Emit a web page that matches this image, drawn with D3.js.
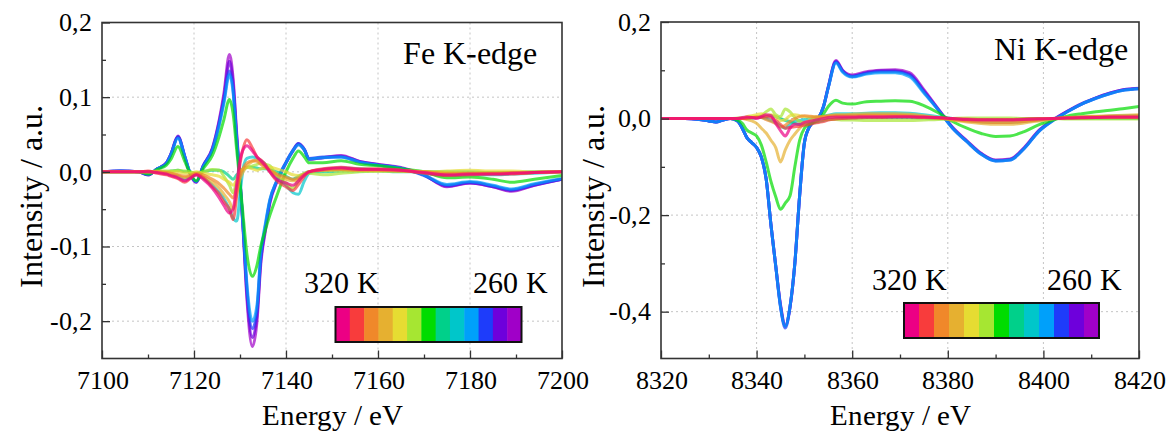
<!DOCTYPE html>
<html><head><meta charset="utf-8">
<script src="https://cdn.jsdelivr.net/npm/d3@7"></script>
<style>
@font-face{font-family:"ChartSerif";src:local("Liberation Serif"),local("LiberationSerif"),local("LiberationSerif-Regular"),local("Liberation Serif Regular"),local("Times New Roman"),local("TimesNewRomanPSMT"),local("Tinos"),local("Tinos-Regular"),local("Nimbus Roman"),local("NimbusRoman-Regular"),local("DejaVu Serif"),local("DejaVuSerif"),local("Noto Serif"),local("NotoSerif-Regular");}
body{margin:0;background:#fff}
</style>
</head><body>
<svg id="c" width="1171" height="434"></svg>
<script>
// ---------- data ----------
const temperatures = [320,315,310,305,300,295,290,285,280,275,270,265,260];
const tempColors = ["#EC0084","#F83C3C","#F0882A","#E6B030","#E6DC32","#A6E632","#00DC00","#00D08A","#00C6CA","#00A0FA","#1E3CFA","#6E00DC","#A000C8"];

const feEnergy = [7100,7104,7108,7110,7112,7114,7115,7116.5,7118,7119,7120.5,7122,7124,7125.5,7126.5,7127.7,7128.5,7129.3,7130,7130.7,7131.5,7132.7,7133.7,7134.5,7135.5,7136.5,7138,7140,7141.5,7142.7,7144,7145,7148,7152,7156,7160,7165,7170,7175,7180,7185,7189,7194,7200];
const fe320 = [0,0,0,0,-0.001,-0.003,-0.005,-0.008,-0.012,-0.009,-0.004,-0.01,-0.022,-0.035,-0.045,-0.055,-0.05,-0.015,0.015,0.03,0.035,0.028,0.02,0.015,0.008,0,-0.01,-0.015,-0.018,-0.012,-0.004,0,0.003,0.005,0.003,0.003,0.002,-0.001,-0.004,-0.003,-0.003,-0.002,-0.001,0];
const fe315 = [0,0,0,0.001,-0.002,-0.004,-0.006,-0.009,-0.014,-0.01,-0.004,-0.008,-0.02,-0.03,-0.04,-0.05,-0.064,-0.03,0.01,0.032,0.043,0.032,0.02,0.016,0.01,0,-0.012,-0.02,-0.025,-0.017,-0.006,0,0.004,0.006,0.004,0.004,0.002,-0.002,-0.005,-0.004,-0.003,-0.003,-0.001,0];
const fe310 = [0,0,0,0,0,-0.001,-0.002,-0.004,-0.006,-0.005,-0.002,-0.004,-0.01,-0.016,-0.022,-0.03,-0.035,-0.02,-0.005,0.005,0.012,0.015,0.014,0.01,0.006,0.002,-0.003,-0.007,-0.01,-0.008,-0.003,0,0.002,0.003,0.002,0.002,0.001,0,-0.002,-0.002,-0.002,-0.001,-0.001,0];
const fe305 = [0,0,0,0,0,-0.002,-0.003,-0.005,-0.008,-0.006,-0.003,-0.006,-0.014,-0.022,-0.03,-0.04,-0.05,-0.03,-0.01,0,0.008,0.014,0.016,0.012,0.008,0.002,-0.005,-0.01,-0.012,-0.01,-0.004,0,0.003,0.004,0.003,0.003,0.002,0,-0.003,-0.002,-0.002,-0.002,-0.001,0];
const fe300 = [0,0,0,0,0,0,0,0,-0.002,-0.002,0,-0.002,-0.004,-0.006,-0.01,-0.014,-0.018,-0.01,0,0.004,0.006,0.004,0.002,0.004,0.005,0.006,0.004,0,-0.004,-0.005,-0.002,0,0.002,0.002,0.002,0.001,0.001,0,0.001,0.002,0.001,0.001,0,0];
const fe295 = [0,0,0,0,0.001,0.001,0.001,0.002,0.001,0,-0.002,0,0.003,0.002,-0.006,-0.018,-0.028,-0.012,0,0.003,0.006,0.008,0.01,0.012,0.01,0.008,-0.005,-0.015,-0.022,-0.012,-0.004,-0.002,-0.004,-0.002,0,0.001,0.001,0,-0.001,-0.002,-0.002,-0.002,-0.001,0];
const fe290 = [0,0,0,-0.003,0.003,0.009,0.017,0.034,0.014,0,-0.012,0.004,0.022,0.048,0.07,0.097,0.078,0.028,-0.015,-0.06,-0.11,-0.14,-0.125,-0.1,-0.078,-0.058,-0.032,0,0.018,0.028,0.02,0.012,0.012,0.015,0.01,0.008,0.004,0,-0.008,-0.007,-0.01,-0.014,-0.01,-0.005];
const fe285 = [0,0,0,0,0,0,0.001,0.002,0,0,-0.002,0,0.002,0.002,0,-0.006,-0.01,-0.004,0,0.004,0.006,0.006,0.005,0.004,0.004,0.003,0,-0.006,-0.01,-0.006,-0.002,0,0,0.001,0.001,0.001,0,0,0,0,-0.001,-0.001,0,0];
const fe280 = [0,0,0,0,0,-0.002,-0.004,-0.006,-0.01,-0.008,-0.004,-0.008,-0.018,-0.028,-0.036,-0.05,-0.062,-0.066,-0.03,0.005,0.018,0.02,0.018,0.015,0.01,0.002,-0.008,-0.018,-0.028,-0.03,-0.012,-0.002,0.003,0.005,0.004,0.003,0.002,-0.002,-0.005,-0.004,-0.004,-0.003,-0.002,0];
const fe275 = [0,0.001,0,-0.003,0.004,0.011,0.023,0.045,0.02,0.001,-0.013,0.007,0.029,0.063,0.092,0.13,0.106,0.04,-0.012,-0.075,-0.15,-0.2,-0.178,-0.11,-0.07,-0.037,-0.012,0.012,0.028,0.036,0.029,0.017,0.019,0.02,0.013,0.009,0.005,-0.004,-0.017,-0.013,-0.018,-0.023,-0.016,-0.009];
const fe270 = [0,0.001,0,-0.004,0.004,0.012,0.024,0.047,0.021,0.001,-0.013,0.008,0.03,0.065,0.095,0.135,0.11,0.042,-0.01,-0.075,-0.155,-0.21,-0.185,-0.115,-0.073,-0.038,-0.012,0.013,0.029,0.038,0.03,0.018,0.02,0.02,0.013,0.009,0.005,-0.005,-0.018,-0.014,-0.019,-0.024,-0.017,-0.01];
const fe265 = [0,0.001,0,-0.004,0.004,0.012,0.024,0.047,0.02,0,-0.014,0.008,0.031,0.068,0.1,0.148,0.118,0.046,-0.01,-0.078,-0.163,-0.222,-0.192,-0.12,-0.077,-0.04,-0.013,0.012,0.028,0.037,0.029,0.017,0.019,0.021,0.014,0.01,0.005,-0.004,-0.019,-0.015,-0.02,-0.025,-0.018,-0.01];
const fe260 = [0,0.001,0,-0.004,0.004,0.012,0.024,0.048,0.02,0,-0.014,0.008,0.032,0.07,0.105,0.157,0.125,0.05,-0.01,-0.08,-0.17,-0.234,-0.2,-0.125,-0.08,-0.042,-0.014,0.012,0.028,0.038,0.03,0.017,0.019,0.022,0.014,0.01,0.006,-0.004,-0.02,-0.015,-0.02,-0.026,-0.018,-0.01];

const niEnergy = [8320,8325,8328,8330,8331.5,8333,8334.5,8336,8337,8338,8339,8340,8341,8342,8343,8344,8345,8346,8347,8348,8349,8350,8351,8352,8353,8354,8355,8356.6,8358,8360,8363,8366,8369,8372,8375,8378,8381,8384,8387,8390,8393,8396,8399,8402,8405,8408,8411,8414,8417,8420];
const ni320 = [0,0,0,0,0,0,0,0,0.002,0.003,0.002,0,0.004,0.008,0.006,-0.01,-0.025,-0.036,-0.02,-0.012,-0.012,-0.008,-0.006,-0.004,-0.002,0,0.002,0.003,0.003,0.003,0.004,0.004,0.004,0.004,0.003,0.002,0,-0.002,-0.003,-0.003,-0.003,-0.002,-0.001,0,0.001,0.002,0.002,0.003,0.003,0.003];
const ni315 = [0,0,0,0,0,0,0,0,0,0.001,0.002,0.002,0.003,0.004,0.002,-0.004,-0.012,-0.02,-0.018,-0.017,-0.016,-0.014,-0.012,-0.01,-0.008,-0.006,-0.003,-0.001,0,0.001,0.002,0.002,0.003,0.003,0.002,0.001,0,-0.001,-0.002,-0.002,-0.002,-0.001,0,0,0.001,0.001,0.002,0.002,0.002,0.002];
const ni310 = [0,0,0,0,0,0,0,0,0,0.001,0.002,0.003,0.002,-0.002,-0.006,-0.01,-0.018,-0.014,-0.006,0,0.004,0.006,0.005,0.004,0.004,0.004,0.005,0.006,0.006,0.006,0.007,0.007,0.007,0.006,0.004,0.001,-0.002,-0.005,-0.007,-0.008,-0.008,-0.006,-0.003,0,0.002,0.003,0.004,0.005,0.005,0.006];
const ni305 = [0,0,0,0,0,0,0,0,0,-0.002,-0.005,-0.01,-0.02,-0.03,-0.045,-0.06,-0.09,-0.065,-0.045,-0.032,-0.02,-0.01,-0.004,0,0.002,0.004,0.006,0.008,0.008,0.009,0.01,0.01,0.01,0.009,0.006,0.002,-0.003,-0.007,-0.01,-0.012,-0.012,-0.009,-0.005,-0.001,0.002,0.004,0.005,0.006,0.007,0.008];
const ni300 = [0,0,0,0,0,0,0,0,0,0.004,0.006,0.008,0.01,0.006,0.008,0.004,-0.004,-0.002,0.006,0.008,0.006,0.004,0.003,0.003,0.003,0.003,0.004,0.005,0.005,0.005,0.006,0.006,0.006,0.005,0.003,0.001,-0.001,-0.003,-0.004,-0.005,-0.005,-0.004,-0.002,0,0.001,0.002,0.003,0.003,0.004,0.004];
const ni295 = [0,0,0,0,0,0,0,0.001,0.002,0.003,0.003,0.004,0.006,0.014,0.02,0.008,0.004,0.02,0.014,0.002,-0.006,-0.008,-0.006,-0.004,-0.003,-0.002,-0.002,-0.002,-0.003,-0.003,-0.004,-0.004,-0.004,-0.004,-0.003,-0.002,0,0.001,0.001,0.001,0.001,0,0,0,-0.001,-0.001,-0.001,-0.001,-0.001,-0.001];
const ni290 = [0,0,0,0,0,0,0,-0.003,-0.01,-0.024,-0.03,-0.036,-0.055,-0.09,-0.13,-0.162,-0.188,-0.175,-0.16,-0.1,-0.045,-0.02,-0.012,-0.008,-0.003,0.01,0.025,0.038,0.032,0.03,0.035,0.036,0.037,0.036,0.027,0.012,-0.006,-0.02,-0.031,-0.037,-0.036,-0.027,-0.013,-0.003,0.005,0.01,0.014,0.017,0.021,0.025];
const ni285 = [0,0,0,0,0,0,0,0,0,0,0.001,0.002,0.003,0.004,0.006,0.004,0,-0.004,-0.006,-0.01,-0.012,-0.012,-0.01,-0.008,-0.006,-0.004,-0.002,0,0,0.001,0.002,0.002,0.002,0.002,0.001,0,-0.001,-0.002,-0.002,-0.002,-0.002,-0.001,0,0,0,0,0,0,0,0];
const ni280 = [0,0,0,0,0,0,0,0,0,0,0.001,0.002,0.002,0,-0.004,-0.008,-0.016,-0.02,-0.012,-0.006,-0.004,-0.002,0,0.002,0.003,0.005,0.007,0.01,0.01,0.01,0.011,0.012,0.012,0.011,0.008,0.004,0,-0.004,-0.007,-0.008,-0.008,-0.006,-0.003,0,0.002,0.003,0.004,0.005,0.006,0.006];
const ni275 = [0,0,-0.002,-0.005,-0.007,-0.003,0,-0.005,-0.02,-0.04,-0.05,-0.06,-0.08,-0.125,-0.22,-0.305,-0.39,-0.43,-0.388,-0.3,-0.16,-0.05,-0.018,-0.006,0.002,0.025,0.064,0.115,0.096,0.086,0.092,0.095,0.095,0.087,0.053,0.018,-0.02,-0.048,-0.074,-0.088,-0.086,-0.062,-0.027,-0.004,0.014,0.03,0.042,0.052,0.059,0.062];
const ni270 = [0,0,-0.002,-0.005,-0.007,-0.003,0,-0.005,-0.02,-0.04,-0.05,-0.06,-0.08,-0.125,-0.22,-0.305,-0.39,-0.434,-0.39,-0.3,-0.16,-0.05,-0.018,-0.006,0.002,0.025,0.065,0.117,0.098,0.087,0.094,0.097,0.097,0.09,0.055,0.018,-0.02,-0.048,-0.074,-0.088,-0.086,-0.062,-0.027,-0.004,0.014,0.03,0.042,0.052,0.059,0.062];
const ni265 = [0,0,-0.002,-0.005,-0.007,-0.003,0,-0.005,-0.02,-0.04,-0.05,-0.06,-0.08,-0.125,-0.22,-0.305,-0.388,-0.43,-0.39,-0.3,-0.16,-0.05,-0.018,-0.006,0.002,0.025,0.065,0.118,0.099,0.088,0.095,0.099,0.099,0.092,0.057,0.019,-0.019,-0.047,-0.073,-0.087,-0.085,-0.061,-0.026,-0.003,0.015,0.03,0.043,0.053,0.06,0.062];
const ni260 = [0,0,-0.002,-0.005,-0.007,-0.003,0,-0.005,-0.02,-0.04,-0.05,-0.06,-0.08,-0.125,-0.22,-0.305,-0.385,-0.428,-0.39,-0.3,-0.16,-0.05,-0.018,-0.006,0.002,0.025,0.066,0.12,0.1,0.09,0.097,0.1,0.101,0.095,0.06,0.02,-0.018,-0.046,-0.072,-0.086,-0.084,-0.06,-0.025,-0.003,0.015,0.031,0.043,0.053,0.06,0.063];

const feXTicks = [7100,7120,7140,7160,7180,7200];
const feXTickLabels = ["7100","7120","7140","7160","7180","7200"];
const feXMinor = [7110,7130,7150,7170,7190];
const feYTicks = [-0.2,-0.1,0,0.1,0.2];
const feYTickLabels = ["-0,2","-0,1","0,0","0,1","0,2"];
const feYMinor = [-0.15,-0.05,0.05,0.15];

const niXTicks = [8320,8340,8360,8380,8400,8420];
const niXTickLabels = ["8320","8340","8360","8380","8400","8420"];
const niXMinor = [8330,8350,8370,8390,8410];
const niYTicks = [-0.4,-0.2,0,0.2];
const niYTickLabels = ["-0,4","-0,2","0,0","0,2"];
const niYMinor = [-0.3,-0.1,0.1];

const xTitle = "Energy / eV";
const yTitle = "Intensity / a.u.";
const edgeLabels = ["Fe K-edge","Ni K-edge"];
const rangeLabels = ["320 K","260 K"];

// ---------- drawing ----------
const FONT = "ChartSerif, 'Liberation Serif', 'DejaVu Serif', serif";
const svg = d3.select("#c");

function txt(sel, size){
  return sel.style("font-family",FONT).style("font-size",size+"px").style("fill","#000");
}

function drawPanel(o){
  const x = d3.scaleLinear().domain(o.xDomain).range([o.left,o.right]);
  const y = d3.scaleLinear().domain(o.yDomain).range([o.bottom,o.top]);
  const g = svg.append("g");

  g.selectAll(".vg").data(o.xTicks.slice(1,-1)).join("line")
    .attr("x1",d=>x(d)).attr("x2",d=>x(d)).attr("y1",o.top).attr("y2",o.bottom)
    .attr("stroke","#c4c4c4").attr("stroke-width",1).attr("stroke-dasharray","2,3");
  g.selectAll(".hg").data(o.yTicks.filter(d=>d>o.yDomain[0] && d<o.yDomain[1])).join("line")
    .attr("x1",o.left).attr("x2",o.right).attr("y1",d=>y(d)).attr("y2",d=>y(d))
    .attr("stroke","#c4c4c4").attr("stroke-width",1).attr("stroke-dasharray","2,3");

  const line = d3.line().x((d,i)=>x(o.energy[i])).y(d=>y(d)).curve(d3.curveMonotoneX);
  const clipId = "clip"+o.id;
  svg.append("clipPath").attr("id",clipId).append("rect")
    .attr("x",o.left).attr("y",o.top).attr("width",o.right-o.left).attr("height",o.bottom-o.top);
  const cg = g.append("g").attr("clip-path",`url(#${clipId})`);
  for(let k=o.series.length-1;k>=0;k--){
    cg.append("path").attr("d",line(o.series[k])).attr("fill","none")
      .attr("stroke",tempColors[k]).attr("stroke-width",3).attr("stroke-opacity",0.7)
      .attr("stroke-linejoin","round").attr("stroke-linecap","round");
  }

  g.append("g").attr("transform",`translate(0,${o.bottom})`)
    .call(d3.axisBottom(x).tickValues(o.xTicks).tickFormat((d,i)=>o.xTickLabels[i]).tickSize(-8).tickPadding(12));
  g.append("g").attr("transform",`translate(0,${o.bottom})`)
    .call(d3.axisBottom(x).tickValues(o.xMinor).tickFormat("").tickSize(-4));
  g.append("g").attr("transform",`translate(${o.left},0)`)
    .call(d3.axisLeft(y).tickValues(o.yTicks).tickFormat((d,i)=>o.yTickLabels[i]).tickSize(-8).tickPadding(10));
  g.append("g").attr("transform",`translate(${o.left},0)`)
    .call(d3.axisLeft(y).tickValues(o.yMinor).tickFormat("").tickSize(-4));
  g.selectAll(".domain").remove();
  g.selectAll(".tick line").attr("stroke","#333").attr("stroke-width",1.3);
  txt(g.selectAll(".tick text"),26);

  g.append("rect").attr("x",o.left).attr("y",o.top).attr("width",o.right-o.left).attr("height",o.bottom-o.top)
    .attr("fill","none").attr("stroke","#333").attr("stroke-width",1.6);

  txt(g.append("text").attr("x",(o.left+o.right)/2).attr("y",425).attr("text-anchor","middle"),29).text(xTitle);
  txt(g.append("text").attr("transform",`translate(${o.yTitleX},196) rotate(-90)`)
    .attr("text-anchor","middle"),32).text(yTitle);
  txt(g.append("text").attr("x",o.edgeX).attr("y",o.edgeY).attr("text-anchor","end"),32).text(o.edge);

  const cb = d3.scaleBand().domain(temperatures).range([o.cbLeft,o.cbRight]).paddingInner(0).paddingOuter(0);
  g.selectAll(".cb").data(temperatures).join("rect")
    .attr("x",d=>cb(d)).attr("y",o.cbTop).attr("width",cb.bandwidth()+0.5).attr("height",o.cbH)
    .attr("fill",(d,i)=>tempColors[i]);
  g.append("rect").attr("x",o.cbLeft).attr("y",o.cbTop).attr("width",o.cbRight-o.cbLeft).attr("height",o.cbH)
    .attr("fill","none").attr("stroke","#111").attr("stroke-width",2);
  txt(g.append("text").attr("x",o.t1X).attr("y",o.tY),30).text(rangeLabels[0]);
  txt(g.append("text").attr("x",o.t2X).attr("y",o.tY),30).text(rangeLabels[1]);
}

drawPanel({id:"fe",left:102,right:562,top:22.5,bottom:358.5,xDomain:[7100,7200],yDomain:[-0.25,0.2],
  energy:feEnergy,series:[fe320,fe315,fe310,fe305,fe300,fe295,fe290,fe285,fe280,fe275,fe270,fe265,fe260],
  xTicks:feXTicks,xTickLabels:feXTickLabels,xMinor:feXMinor,yTicks:feYTicks,yTickLabels:feYTickLabels,yMinor:feYMinor,
  yTitleX:42,edge:edgeLabels[0],edgeX:537,edgeY:64,
  cbLeft:335.5,cbRight:521.5,cbTop:307,cbH:35,t1X:304,t2X:473,tY:293});

drawPanel({id:"ni",left:661,right:1139,top:22,bottom:358.5,xDomain:[8320,8420],yDomain:[-0.497,0.2],
  energy:niEnergy,series:[ni320,ni315,ni310,ni305,ni300,ni295,ni290,ni285,ni280,ni275,ni270,ni265,ni260],
  xTicks:niXTicks,xTickLabels:niXTickLabels,xMinor:niXMinor,yTicks:niYTicks,yTickLabels:niYTickLabels,yMinor:niYMinor,
  yTitleX:604,edge:edgeLabels[1],edgeX:1128,edgeY:60,
  cbLeft:904,cbRight:1099,cbTop:303,cbH:35,t1X:872,t2X:1047,tY:290});
</script>
</body></html>
